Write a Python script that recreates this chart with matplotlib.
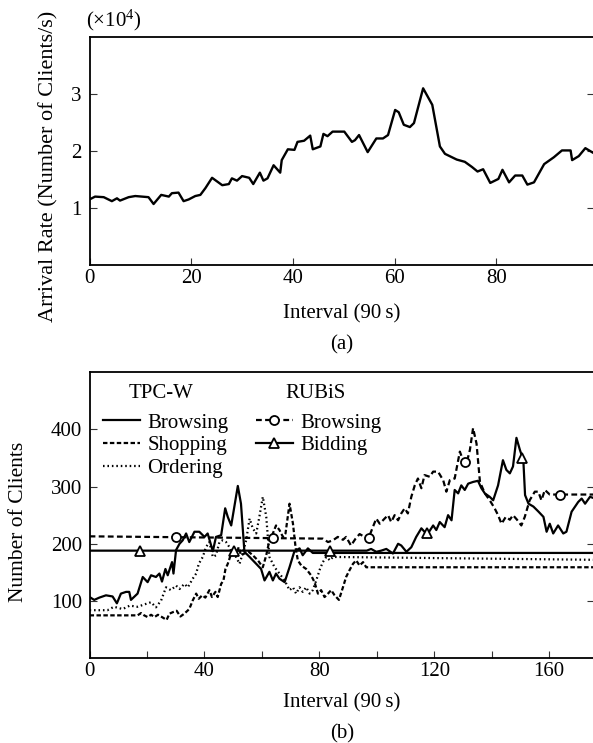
import numpy as np
import matplotlib
matplotlib.use("Agg")
import matplotlib.pyplot as plt
from matplotlib.lines import Line2D

plt.rcParams['font.family'] = ['Liberation Serif', 'DejaVu Serif']
plt.rcParams['mathtext.fontset'] = 'custom'
plt.rcParams['mathtext.rm'] = 'Liberation Serif'
plt.rcParams['mathtext.it'] = 'Liberation Serif:italic'

# ---------------- (a) arrival rate (x10^4 clients/s) ----------------
arrival_x = [0, 1.1, 2.8, 4.4, 5.4, 6.0, 7.7, 9.0, 11.6, 12.6,
             14.1, 15.6, 16.2, 17.5, 18.5, 19.5, 20.8, 21.8, 22.8, 24.1,
             26.1, 27.4, 28.0, 29.0, 30.0, 31.4, 32.2, 33.5, 34.2, 35.0,
             36.2, 37.5, 37.8, 39.0, 40.3, 40.9, 42.2, 43.4, 43.9, 45.4,
             46.0, 46.8, 47.8, 50.1, 51.6, 52.2, 53.0, 54.7, 56.4, 57.7,
             58.7, 60.1, 60.8, 61.8, 63.0, 63.8, 65.6, 67.4, 68.9, 69.9,
             72.2, 73.8, 75.2, 76.3, 77.4, 78.8, 80.4, 81.2, 82.5, 83.7,
             85.1, 86.1, 87.4, 89.4, 91.3, 92.9, 94.6, 94.9, 96.2, 97.5,
             98.8, 99.4]
arrival_y = [1.15, 1.20, 1.19, 1.12, 1.17, 1.13, 1.19, 1.21, 1.19, 1.07,
             1.23, 1.20, 1.26, 1.27, 1.12, 1.15, 1.21, 1.23, 1.35, 1.53,
             1.40, 1.42, 1.52, 1.48, 1.56, 1.53, 1.42, 1.62, 1.48, 1.52,
             1.75, 1.62, 1.84, 2.03, 2.02, 2.16, 2.18, 2.27, 2.03, 2.08,
             2.30, 2.26, 2.34, 2.34, 2.16, 2.19, 2.28, 1.98, 2.22, 2.22,
             2.28, 2.72, 2.68, 2.46, 2.42, 2.49, 3.10, 2.81, 2.08, 1.95,
             1.85, 1.81, 1.72, 1.64, 1.68, 1.44, 1.51, 1.67, 1.45, 1.57,
             1.57, 1.41, 1.45, 1.77, 1.89, 2.01, 2.01, 1.84, 1.91, 2.05,
             1.98, 1.95]
a_xticks = [0, 20, 40, 60, 80]
a_yticks = [1, 2, 3]

# ---------------- (b) number of clients ----------------
tpcw_browse_x = [0, 1.6, 3.4, 5.7, 8.0, 9.5, 10.9, 12.7, 13.8, 14.4,
                 16.7, 18.5, 20.2, 21.4, 23.1, 24.3, 25.2, 26.4, 27.2, 28.7,
                 29.2, 30.1, 31.3, 32.4, 33.6, 34.7, 36.5, 38.2, 40.0, 41.1,
                 42.9, 44.0, 45.8, 47.2, 48.1, 49.3, 50.4, 51.6, 52.7, 53.9,
                 55.7, 58.0, 59.7, 60.9, 62.6, 63.8, 64.9, 66.1, 67.9, 69.6,
                 71.3, 73.1, 74.2, 76.0, 77.7, 176]
tpcw_browse_y = [107, 102, 106, 110, 108, 96, 113, 116, 116, 102,
                 113, 142, 133, 145, 142, 148, 134, 156, 145, 168,
                 148, 189, 200, 206, 218, 203, 221, 221, 212, 218,
                 187, 212, 215, 262, 247, 232, 265, 301, 270, 186,
                 177, 165, 156, 136, 151, 136, 148, 139, 133, 159,
                 187, 192, 180, 192, 184, 184]

tpcw_shop_x = [0, 16.7, 17.9, 19.0, 20.2, 21.4, 22.6, 23.8, 25.2, 26.8,
               27.8, 29.2, 30.3, 31.6, 33.0, 34.7, 35.9, 37.1, 38.0, 39.2,
               40.3, 41.7, 42.6, 43.8, 44.6, 45.8, 46.6, 47.3, 48.1, 48.9,
               49.6, 50.4, 51.2, 51.9, 52.7, 53.9, 55.4, 56.8, 58.6, 60.3,
               61.5, 62.6, 63.8, 64.9, 66.1, 67.3, 68.2, 69.6, 70.8, 71.7,
               72.5, 73.7, 75.4, 77.1, 78.3, 79.5, 80.6, 81.8, 83.0, 84.1,
               85.3, 86.8, 88.2, 89.3, 90.5, 91.7, 92.8, 94.0, 95.2, 96.3,
               176]
tpcw_shop_y = [75, 75, 79, 75, 72, 76, 72, 76, 72, 67,
               78, 81, 83, 73, 78, 86, 101, 113, 104, 110,
               106, 119, 107, 116, 107, 130, 136, 156, 165, 177,
               183, 192, 183, 194, 180, 183, 186, 180, 171, 159,
               180, 206, 218, 232, 224, 212, 218, 270, 235, 194,
               171, 162, 156, 145, 133, 113, 119, 107, 113, 119,
               110, 102, 124, 142, 154, 165, 171, 162, 168, 159,
               159]

tpcw_order_x = [0, 6.2, 8.5, 11.5, 14.0, 16.7, 19.6, 21.4, 23.1, 24.9,
                26.6, 28.3, 30.1, 31.3, 33.0, 34.2, 35.9, 37.1, 38.0, 39.4,
                40.5, 41.7, 42.9, 44.0, 45.2, 46.3, 47.5, 48.7, 49.8, 51.0,
                52.2, 53.3, 54.5, 55.7, 56.8, 58.0, 59.1, 60.3, 61.5, 62.6,
                64.4, 66.1, 67.9, 69.6, 70.8, 71.9, 73.1, 74.2, 75.4, 76.6,
                77.7, 78.9, 80.2, 81.2, 82.4, 83.7, 84.7, 176]
tpcw_order_y = [84, 84, 90, 86, 92, 90, 95, 98, 89, 101,
                124, 119, 127, 121, 130, 124, 139, 148, 165, 177,
                194, 203, 177, 180, 203, 206, 203, 194, 183, 177,
                165, 183, 206, 244, 227, 218, 247, 282, 247, 177,
                159, 148, 136, 119, 124, 113, 124, 116, 124, 113,
                119, 136, 156, 168, 177, 171, 177, 172]

rubis_browse_x = [0, 81.2, 83.0, 84.7, 86.4, 88.2, 89.3, 91.0, 92.6, 94.0,
                  95.7, 96.9, 98.6, 99.8, 101.0, 102.7, 103.9, 105.0, 106.2, 107.4,
                  108.5, 109.7, 110.8, 112.0, 113.2, 114.3, 115.5, 116.6, 118.4, 119.6,
                  121.3, 123.1, 124.2, 125.4, 127.1, 128.9, 130.0, 131.2, 132.4, 133.5,
                  134.7, 135.9, 137.6, 139.3, 141.0, 142.2, 143.4, 144.9, 146.3, 147.4,
                  148.8, 150.3, 151.5, 153.2, 155.0, 156.2, 157.3, 158.5, 160.2, 176]
rubis_browse_y = [213, 209, 203, 206, 212, 207, 212, 197, 209, 217,
                  212, 207, 229, 244, 235, 244, 250, 238, 250, 241,
                  253, 262, 253, 282, 302, 314, 297, 320, 317, 326,
                  326, 311, 291, 311, 314, 361, 346, 340, 364, 402,
                  375, 308, 288, 276, 262, 250, 235, 247, 242, 250,
                  242, 232, 247, 276, 291, 291, 276, 294, 286, 286]

rubis_bid_x = [0, 96.5, 98.0, 99.8, 101.5, 103.3, 105.6, 107.4, 108.5, 110.3,
               112.0, 113.7, 115.5, 116.6, 117.8, 119.6, 120.7, 121.9, 123.6, 124.8,
               126.0, 127.1, 128.3, 129.4, 130.6, 131.8, 133.5, 135.2, 136.4, 137.6,
               139.3, 140.5, 142.2, 143.9, 145.1, 146.3, 147.4, 148.6, 149.8, 151.0,
               151.6, 152.8, 154.5, 156.3, 158.0, 159.1, 160.2, 161.4, 163.1, 164.9,
               166.0, 167.8, 170.1, 171.3, 172.5, 174.2, 176]
rubis_bid_y = [188, 188, 191, 186, 188, 191, 183, 200, 197, 186,
               194, 212, 227, 221, 218, 232, 224, 238, 229, 250,
               241, 294, 288, 302, 294, 305, 308, 310, 297, 288,
               282, 276, 302, 346, 329, 323, 335, 385, 364, 346,
               285, 270, 265, 256, 247, 221, 235, 218, 232, 218,
               221, 256, 273, 279, 270, 282, 279]

rubis_browse_marks = [30.2, 63.7, 97.1, 130.6, 163.7]
rubis_bid_marks = [17.4, 50.4, 83.7, 117.6, 150.7]

b_xticks = [0, 20, 40, 60, 80, 100, 120, 140, 160]
b_xticklabels = ['0', '', '40', '', '80', '', '120', '', '160']
b_yticks = [100, 200, 300, 400]

legend_labels = ['Browsing', 'Shopping', 'Ordering', 'Browsing', 'Bidding']
group_titles = ['TPC-W', 'RUBiS']

# ---------------- figure ----------------
W, H = 593, 743
FS = 15
fig = plt.figure(figsize=(W / 100, H / 100), dpi=100)

def box(l, t, r, b):
    return [l / W, 1 - b / H, (r - l) / W, (b - t) / H]

ax1 = fig.add_axes(box(89.5, 37, 594, 265))
ax2 = fig.add_axes(box(89.6, 372, 594, 658.3))

LW = 1.6
for ax in (ax1, ax2):
    for s in ax.spines.values():
        s.set_linewidth(1.3)
    ax.tick_params(direction='in', length=5, width=0.8, color='#333333',
                   left=True, right=True, top=False, bottom=True,
                   labelsize=FS)
    ax.tick_params(axis='y', pad=5.5)
    ax.tick_params(axis='x', pad=3)

# (a)
ax1.plot(arrival_x, arrival_y, color='black', lw=1.7)
ax1.set_xlim(0, 99.2)
ax1.set_ylim(0, 4)
ax1.set_xticks(a_xticks)
ax1.set_yticks(a_yticks)
ax1.set_xlabel('Interval (90\u2009s)', fontsize=FS)
ax1.xaxis.set_label_coords(0.5, (265 - 318.5) / 228)
ax1.xaxis.label.set_va('baseline')
ax1.set_ylabel('Arrival Rate (Number of Clients/s)', fontsize=16)
ax1.yaxis.set_label_coords((48.5 - 89.5) / 504.5, (265 - 166) / 228)
ax1.yaxis.label.set_va('center')
fig.text(86 / W, 1 - 26.7 / H, '(\u00d710$^{4}$)', fontsize=FS, ha='left', va='baseline')
fig.text(342 / W, 1 - 349 / H, '(a)', fontsize=FS, ha='center', va='baseline')

# (b)
dash_shop = (2.0, 1.1)
dash_rub = (2.6, 1.5)
dot_ord = (0.7, 1.3)
ax2.plot(tpcw_browse_x, tpcw_browse_y, color='black', lw=LW, ls='-')
ax2.plot(tpcw_shop_x, tpcw_shop_y, color='black', lw=LW, ls=(0, dash_shop))
ax2.plot(tpcw_order_x, tpcw_order_y, color='black', lw=LW, ls=(0, dot_ord))
ax2.plot(rubis_browse_x, rubis_browse_y, color='black', lw=LW, ls=(0, dash_rub))
ax2.plot(rubis_bid_x, rubis_bid_y, color='black', lw=LW, ls='-')
ax2.plot(rubis_browse_marks, np.interp(rubis_browse_marks, rubis_browse_x, rubis_browse_y),
         ls='none', marker='o', ms=6.5, mfc='white', mec='black', mew=1.3)
ax2.plot(rubis_bid_marks, np.interp(rubis_bid_marks, rubis_bid_x, rubis_bid_y),
         ls='none', marker='^', ms=6.5, mfc='white', mec='black', mew=1.3)

ax2.set_xlim(0, 175.6)
ax2.set_ylim(0, 500)
ax2.set_xticks(b_xticks)
ax2.set_xticklabels(b_xticklabels)
ax2.set_yticks(b_yticks)
ax2.set_xlabel('Interval (90\u2009s)', fontsize=FS)
ax2.xaxis.set_label_coords(0.5, (658.3 - 707.5) / 286.3)
ax2.xaxis.label.set_va('baseline')
ax2.set_ylabel('Number of Clients', fontsize=15.5)
ax2.yaxis.set_label_coords((18.8 - 89.6) / 504.4, (658.3 - 521.5) / 286.3)
ax2.yaxis.label.set_va('center')
fig.text(342 / W, 1 - 738 / H, '(b)', fontsize=FS, ha='center', va='baseline')

handles = [
    Line2D([], [], color='black', lw=LW, ls='-'),
    Line2D([], [], color='black', lw=LW, ls=(0, dash_shop)),
    Line2D([], [], color='black', lw=LW, ls=(0, dot_ord)),
    Line2D([], [], color='black', lw=LW, ls=(0, dash_rub), marker='o', ms=6.5,
           mfc='white', mec='black', mew=1.3),
    Line2D([], [], color='black', lw=LW, ls='-', marker='^', ms=6.5,
           mfc='white', mec='black', mew=1.3),
]
ax2.legend(handles, legend_labels, ncol=2, loc='upper left',
           bbox_to_anchor=((102.7 - 89.6) / 504.4, (658.3 - 413.0) / 286.3),
           frameon=False, fontsize=FS, handlelength=1.8, handletextpad=0.35,
           labelspacing=0.15, columnspacing=1.3, borderpad=0, borderaxespad=0,
           numpoints=1)
ax2.text((161 - 89.6) / 504.4, (658.3 - 393.3) / 286.3, group_titles[0],
         transform=ax2.transAxes, fontsize=FS, ha='center', va='center')
ax2.text((315.8 - 89.6) / 504.4, (658.3 - 393.3) / 286.3, group_titles[1],
         transform=ax2.transAxes, fontsize=FS, ha='center', va='center')

fig.savefig('out.png', dpi=100)
